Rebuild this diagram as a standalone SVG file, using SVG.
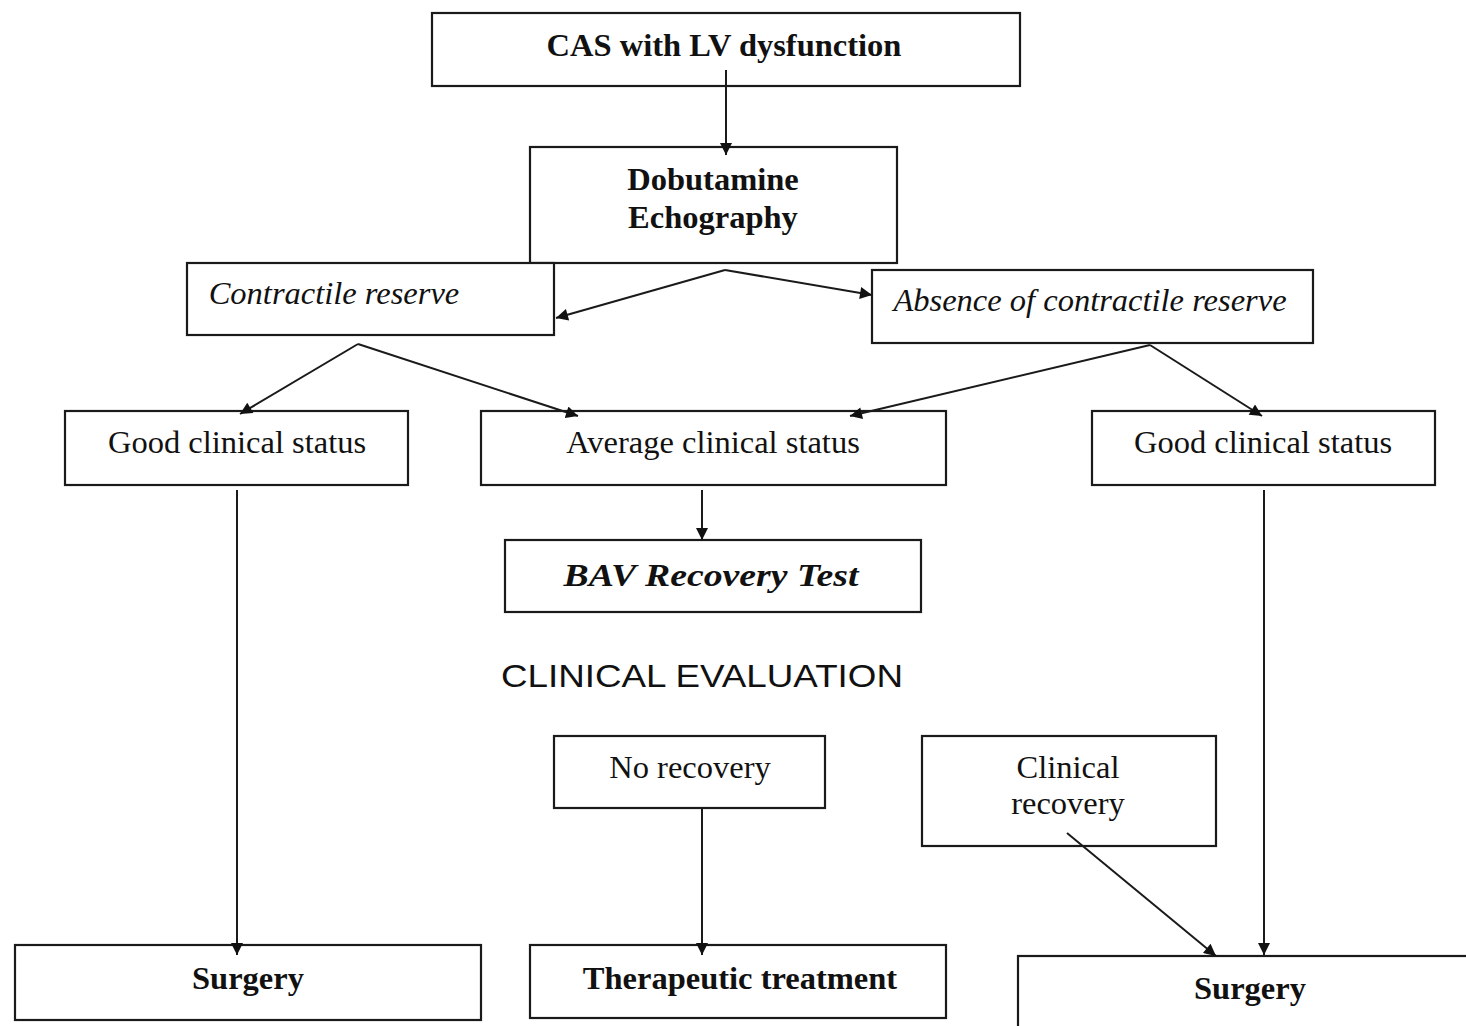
<svg xmlns="http://www.w3.org/2000/svg" width="1466" height="1026" viewBox="0 0 1466 1026">
<style>
.b{fill:#fff;stroke:#1a1a1a;stroke-width:2.2}
.t{font-family:"Liberation Serif","Times New Roman",serif;font-size:32.5px;fill:#111;text-anchor:middle}
.bd{font-weight:bold}
.it{font-style:italic}
.c line{stroke:#1a1a1a;stroke-width:2;marker-end:url(#ah)}
</style>
<defs>
<marker id="ah" viewBox="0 0 10 10" refX="10" refY="5" markerWidth="14" markerHeight="12" markerUnits="userSpaceOnUse" orient="auto">
<path d="M0,0 L10,5 L0,10 z" fill="#111"/>
</marker>
</defs>
<rect width="1466" height="1026" fill="#fff"/>
<g id="n1"><rect class="b" x="432" y="13" width="588" height="73"/><text class="t bd" x="724" y="56">CAS with LV dysfunction</text></g>
<g id="n2"><rect class="b" x="530" y="147" width="367" height="116"/><text class="t bd" x="713" y="190">Dobutamine</text><text class="t bd" x="713" y="228">Echography</text></g>
<g id="n3"><rect class="b" x="187" y="263" width="367" height="72"/><text class="t it" x="334" y="304">Contractile reserve</text></g>
<g id="n4"><rect class="b" x="872" y="270" width="441" height="73"/><text class="t it" x="1090" y="311">Absence of contractile reserve</text></g>
<g id="n5"><rect class="b" x="65" y="411" width="343" height="74"/><text class="t" x="237" y="453">Good clinical status</text></g>
<g id="n6"><rect class="b" x="481" y="411" width="465" height="74"/><text class="t" x="713" y="453">Average clinical status</text></g>
<g id="n7"><rect class="b" x="1092" y="411" width="343" height="74"/><text class="t" x="1263" y="453">Good clinical status</text></g>
<g id="n8"><rect class="b" x="505" y="540" width="416" height="72"/><text class="t bd it" x="711" y="586" textLength="295" lengthAdjust="spacingAndGlyphs">BAV Recovery Test</text></g>
<g id="lbl"><text x="702" y="687" font-family="Liberation Sans, Arial, sans-serif" font-size="31" fill="#111" text-anchor="middle" textLength="402" lengthAdjust="spacingAndGlyphs">CLINICAL EVALUATION</text></g>
<g id="n9"><rect class="b" x="554" y="736" width="271" height="72"/><text class="t" x="690" y="778">No recovery</text></g>
<g id="n10"><rect class="b" x="922" y="736" width="294" height="110"/><text class="t" x="1068" y="778">Clinical</text><text class="t" x="1068" y="814">recovery</text></g>
<g id="n11"><rect class="b" x="15" y="945" width="466" height="75"/><text class="t bd" x="248" y="989">Surgery</text></g>
<g id="n12"><rect class="b" x="530" y="945" width="416" height="73"/><text class="t bd" x="740" y="989">Therapeutic treatment</text></g>
<g id="n13"><rect class="b" x="1018" y="956" width="460" height="80"/><text class="t bd" x="1250" y="999">Surgery</text></g>
<g class="c" id="connectors">
<line x1="726" y1="70" x2="726" y2="155"/>
<line x1="725" y1="270" x2="556" y2="318"/>
<line x1="725" y1="270" x2="872" y2="295"/>
<line x1="358" y1="344" x2="240" y2="414"/>
<line x1="358" y1="344" x2="578" y2="416"/>
<line x1="1150" y1="345" x2="850" y2="416"/>
<line x1="1150" y1="345" x2="1262" y2="416"/>
<line x1="702" y1="490" x2="702" y2="540"/>
<line x1="237" y1="490" x2="237" y2="955"/>
<line x1="702" y1="808" x2="702" y2="955"/>
<line x1="1264" y1="490" x2="1264" y2="955"/>
<line x1="1067" y1="833" x2="1216" y2="956"/>
</g>
</svg>
